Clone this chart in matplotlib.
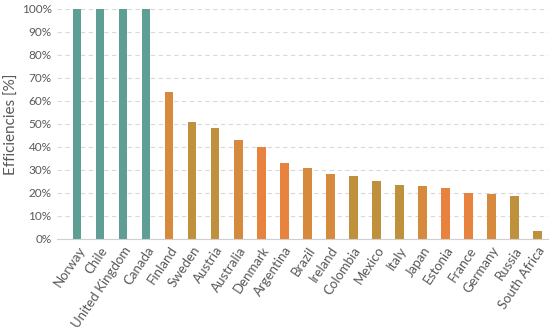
import matplotlib
matplotlib.use("Agg")
import matplotlib.pyplot as plt
from matplotlib.ticker import PercentFormatter, MultipleLocator

countries = ["Norway", "Chile", "United Kingdom", "Canada", "Finland", "Sweden",
             "Austria", "Australia", "Denmark", "Argentina", "Brazil", "Ireland",
             "Colombia", "Mexico", "Italy", "Japan", "Estonia", "France",
             "Germany", "Russia", "South Africa"]
efficiency = [100, 100, 100, 100, 64, 51, 48, 43, 40, 33, 31, 28,
              27.5, 25, 23.5, 23, 22, 20, 19.5, 18.5, 3.5]

teal = "#5E9E94"
gold = "#BF913C"
mid = "#D58A3D"
orange = "#E8833F"
colors = [teal, teal, teal, teal, mid, gold, gold, mid, orange, orange, mid,
          mid, gold, gold, gold, mid, orange, orange, mid, gold, gold]

plt.rcParams["font.family"] = ["Lato", "DejaVu Sans"]

fig = plt.figure(figsize=(5.5, 3.33), dpi=100)
ax = fig.add_axes([0.104, 0.283, 0.893, 0.69])

x = range(len(countries))
ax.bar(x, efficiency, width=0.37, color=colors, zorder=3)

ax.set_ylim(0, 100)
ax.set_xlim(-0.87, len(countries) - 0.52)
ax.yaxis.set_major_locator(MultipleLocator(10))
ax.yaxis.set_major_formatter(PercentFormatter(decimals=0))
ax.grid(axis="y", color="#D9D9D9", linestyle=(0, (4, 3)), linewidth=0.8, zorder=0)

for s in ["top", "right", "left"]:
    ax.spines[s].set_visible(False)
ax.spines["bottom"].set_color("#D0D0D0")
ax.spines["bottom"].set_zorder(4)

ax.set_xticks(list(x))
ax.set_xticklabels(countries, rotation=56, ha="right", rotation_mode="anchor")
ax.tick_params(axis="x", length=0, labelsize=9.5, colors="#595959", pad=4)
ax.tick_params(axis="y", length=0, labelsize=8.5, colors="#595959", pad=4)
ax.set_ylabel("Efficiencies [%]", fontsize=11, color="#595959")
ax.yaxis.set_label_coords(-0.078, 0.5)

fig.savefig("out.png", dpi=100)
